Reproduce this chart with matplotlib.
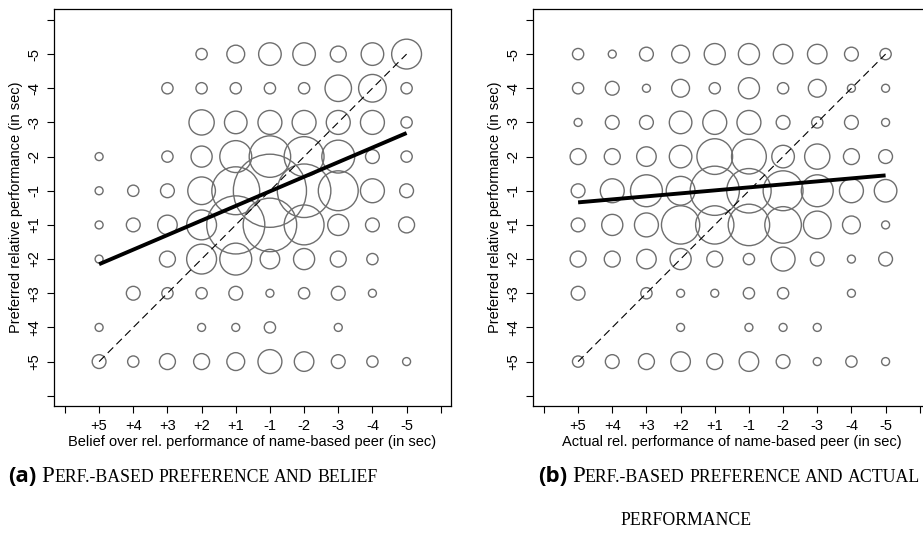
import numpy as np
import matplotlib
matplotlib.use("Agg")
import matplotlib.pyplot as plt

# category labels (x: left to right, y: top to bottom)
x_labels = ['+5', '+4', '+3', '+2', '+1', '-1', '-2', '-3', '-4', '-5']
y_labels = ['-5', '-4', '-3', '-2', '-1', '+1', '+2', '+3', '+4', '+5']

# number of subjects per cell, panel (a): rows = preferred rel. performance, cols = belief
counts_a = [
    [0, 0, 0, 2, 5, 8, 8, 4, 8, 14],
    [0, 0, 2, 2, 2, 2, 2, 11, 12, 2],
    [0, 0, 0, 10, 8, 9, 9, 9, 9, 2],
    [1, 0, 2, 7, 16, 27, 25, 17, 3, 2],
    [1, 2, 3, 12, 36, 84, 45, 25, 9, 3],
    [1, 3, 6, 14, 53, 45, 25, 7, 3, 4],
    [1, 0, 4, 14, 16, 6, 7, 4, 2, 0],
    [0, 3, 2, 2, 3, 1, 2, 3, 1, 0],
    [1, 0, 0, 1, 1, 2, 0, 1, 0, 0],
    [3, 2, 4, 4, 5, 9, 6, 3, 2, 1],
]

# panel (b): rows = preferred rel. performance, cols = actual rel. performance
counts_b = [
    [2, 1, 3, 5, 7, 7, 6, 6, 3, 2],
    [2, 3, 1, 5, 2, 7, 2, 5, 1, 1],
    [1, 3, 3, 8, 9, 9, 3, 2, 3, 1],
    [4, 4, 6, 8, 20, 19, 8, 10, 4, 3],
    [3, 9, 16, 13, 38, 31, 25, 16, 9, 8],
    [3, 7, 9, 23, 23, 27, 21, 12, 5, 1],
    [4, 4, 6, 7, 4, 2, 9, 3, 1, 3],
    [3, 0, 2, 1, 1, 2, 2, 0, 1, 0],
    [0, 0, 0, 1, 0, 1, 1, 1, 0, 0],
    [2, 3, 4, 6, 4, 6, 3, 1, 2, 1],
]

# fitted line, y position (category index) at x = +5 and x = -5
fit_a = [7.15, 3.31]
fit_b = [5.34, 4.55]

xlab_a = "Belief over rel. performance of name-based peer (in sec)"
xlab_b = "Actual rel. performance of name-based peer (in sec)"
ylab = "Preferred relative performance (in sec)"

plt.rcParams['font.family'] = ['Liberation Sans', 'DejaVu Sans']

W, H = 923, 536
fig = plt.figure(figsize=(W / 100, H / 100), dpi=100)

pos = np.arange(1, 11)
gx, gy = np.meshgrid(pos, pos)


def panel(left, counts, fit, xlabel):
    ax = fig.add_axes([left / W, (H - 406) / H, 397 / W, 397 / H])
    c = np.array(counts, dtype=float)
    m = c > 0
    ax.scatter(gx[m], gy[m], s=c[m] * 33, facecolors='none',
               edgecolors='#6e6e6e', linewidths=1.0, zorder=2)
    ax.plot([1, 10], [10, 1], color='black', lw=0.8, ls=(0, (7, 4)), zorder=3)
    ax.plot([1, 10], fit, color='black', lw=2.8, solid_capstyle='butt', zorder=4)
    ax.set_xlim(-0.32, 11.3)
    ax.set_ylim(11.3, -0.32)
    ax.set_xticks(range(12))
    ax.set_xticklabels([''] + x_labels + [''], fontsize=10.5)
    ax.set_yticks(range(12))
    ax.set_yticklabels([''] + y_labels + [''], fontsize=10.5, rotation=90, va='center')
    ax.tick_params(direction='out', length=5, width=0.8, pad=4)
    for s in ax.spines.values():
        s.set_linewidth(0.9)
    ax.set_xlabel(xlabel, fontsize=10.5, labelpad=2)
    ax.set_ylabel(ylab, fontsize=10.5, labelpad=3)
    return ax


panel(54, counts_a, fit_a, xlab_a)
panel(533, counts_b, fit_b, xlab_b)

renderer = fig.canvas.get_renderer()
serif = 'Liberation Serif'


def put(x, y, s, **kw):
    t = fig.text(x / W, 1 - y / H, s, va='baseline', ha='left', **kw)
    return x + t.get_window_extent(renderer).width


def smallcaps(x, y, s, big=16.5, small=12.8):
    sp = fig.text(0, 0, 'x x', fontsize=small, family=serif)
    sp2 = fig.text(0, 0, 'xx', fontsize=small, family=serif)
    space = sp.get_window_extent(renderer).width - sp2.get_window_extent(renderer).width
    sp.remove()
    sp2.remove()
    for i, word in enumerate(s.split(' ')):
        if i:
            x += space
        run, is_up = '', None
        for ch in word:
            up = ch.isupper()
            if run and up != is_up:
                x = put(x, y, run.upper(), fontsize=big if is_up else small, family=serif)
                run = ''
            run += ch
            is_up = up
        if run:
            x = put(x, y, run.upper(), fontsize=big if is_up else small, family=serif)
    return x


cap_y = 482
x = put(8, cap_y, '(a)', fontsize=16, fontweight='bold', family='Open Sans')
smallcaps(x + 5, cap_y, 'Perf.-based preference and belief')
x = put(538, cap_y, '(b)', fontsize=16, fontweight='bold', family='Open Sans')
smallcaps(x + 5, cap_y, 'Perf.-based preference and actual')
smallcaps(620, cap_y + 43, 'performance')

fig.savefig('out.png', dpi=100)
